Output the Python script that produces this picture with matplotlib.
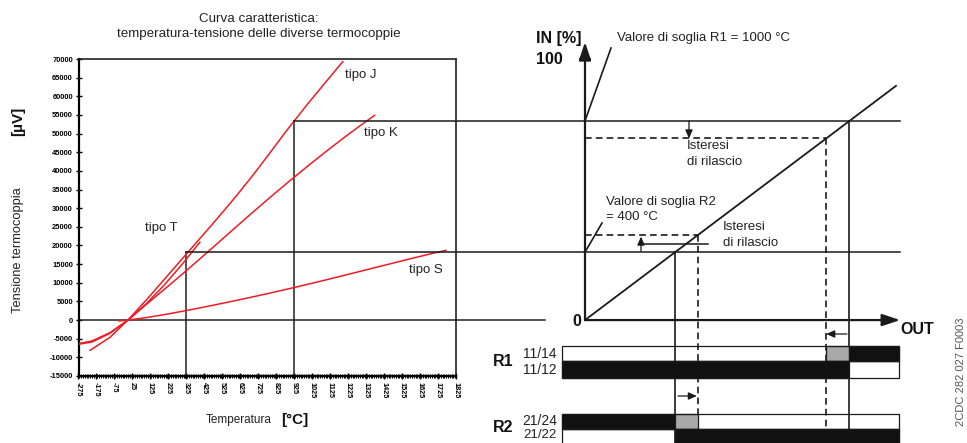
import matplotlib
matplotlib.use('Agg')
import matplotlib.pyplot as plt
from matplotlib.patches import Rectangle
from matplotlib.ticker import MultipleLocator

plt.rcParams['font.family'] = ['Liberation Sans', 'DejaVu Sans']

# ---------------- data ----------------
temp_J = [-210, -100, 0, 100, 200, 300, 400, 500, 600, 700, 760, 800, 900, 1000, 1100, 1195]
uv_J = [-8095, -4633, 0, 5269, 10779, 16327, 21848, 27393, 33102, 39132, 42919, 45494, 51877, 57953, 63792, 69300]

temp_K = [-270, -200, -100, 0, 100, 200, 300, 400, 500, 600, 700, 800, 900, 1000, 1100, 1200, 1300, 1372]
uv_K = [-6458, -5891, -3554, 0, 4096, 8138, 12209, 16397, 20644, 24905, 29129, 33275, 37326, 41276, 45119, 48838, 52410, 54886]

temp_T = [-270, -200, -100, 0, 100, 200, 300, 400]
uv_T = [-6258, -5603, -3379, 0, 4279, 9288, 14862, 20872]

temp_S = [-50, 0, 100, 200, 300, 400, 500, 600, 700, 800, 900, 1000, 1100, 1200, 1300, 1400, 1500, 1600, 1700, 1768]
uv_S = [-236, 0, 646, 1441, 2323, 3259, 4233, 5239, 6275, 7345, 8449, 9587, 10757, 11951, 13159, 14373, 15582, 16777, 17947, 18693]

x_ticks = list(range(-275, 1826, 100))
y_ticks = list(range(-15000, 70001, 5000))

# thresholds (µV); 70000 µV corresponds to IN = 100 %
UV_FULL = 70000
R1_TEMP, R1_ON_UV, R1_OFF_UV = 925, 53400, 48700
R2_TEMP, R2_ON_UV, R2_OFF_UV = 325, 18200, 22800
OUT_DIAG_END = 89.7
OUT_AXIS_END = 90.9
IN_AXIS_END = 106.5
BAR_START, BAR_END = -6.6, 90.5

pct = lambda uv: uv / UV_FULL * 100.0
R1_ON, R1_OFF = pct(R1_ON_UV), pct(R1_OFF_UV)
R2_ON, R2_OFF = pct(R2_ON_UV), pct(R2_OFF_UV)

# relay rows: list of (start, end, colour) in OUT units
R1_NO = [(BAR_START, R1_OFF, 'white'), (R1_OFF, R1_ON, '#a9a9a9'), (R1_ON, BAR_END, '#111111')]
R1_NC = [(BAR_START, R1_ON, '#111111'), (R1_ON, BAR_END, 'white')]
R2_NO = [(BAR_START, R2_ON, '#111111'), (R2_ON, R2_OFF, '#a9a9a9'), (R2_OFF, BAR_END, 'white')]
R2_NC = [(BAR_START, R2_ON, 'white'), (R2_ON, BAR_END, '#111111')]

# ---------------- layout ----------------
W, H = 967, 443
fig = plt.figure(figsize=(W / 100, H / 100), dpi=100)

def T(x, y, s, **kw):
    kw.setdefault('ha', 'left')
    kw.setdefault('va', 'center')
    kw.setdefault('fontsize', 9.5)
    kw.setdefault('color', '#222222')
    fig.text(x / W, 1 - y / H, s, **kw)

AX_L, AX_R, AX_T, AX_B = 78.5, 456.0, 59.0, 376.0
ax1 = fig.add_axes([AX_L / W, 1 - AX_B / H, (AX_R - AX_L) / W, (AX_B - AX_T) / H])
XMIN, XMAX, YMIN, YMAX = -275, 1825, -15000, 70000
ax1.set_xlim(XMIN, XMAX)
ax1.set_ylim(YMIN, YMAX)

red = '#ee1c24'
for t, v in [(temp_J, uv_J), (temp_K, uv_K), (temp_T, uv_T), (temp_S, uv_S)]:
    ax1.plot(t, v, color=red, lw=1.1, zorder=3)

ax1.set_xticks(x_ticks)
ax1.set_yticks(y_ticks)
ax1.xaxis.set_minor_locator(MultipleLocator(10))
ax1.set_xticklabels([str(v) for v in x_ticks], rotation=270, fontsize=5.2, fontweight='bold')
ax1.set_yticklabels([str(v) for v in y_ticks], fontsize=5.4, fontweight='bold')
ax1.tick_params(axis='y', direction='inout', length=5, width=1, pad=1.5)
ax1.tick_params(axis='x', which='major', direction='inout', length=4, width=1, pad=2)
ax1.tick_params(axis='x', which='minor', direction='inout', length=3, width=0.8)
for s in ['left', 'bottom']:
    ax1.spines[s].set_linewidth(1.6)
for s in ['top', 'right']:
    ax1.spines[s].set_linewidth(1.2)
    ax1.spines[s].set_color('#222222')

px_per_deg = (AX_R - AX_L) / (XMAX - XMIN)
deg_at_px = lambda px: XMIN + (px - AX_L) / px_per_deg
# zero line (extends a little to the right of the chart)
ax1.plot([XMIN, deg_at_px(545)], [0, 0], color='#222222', lw=1.1, clip_on=False, zorder=2)
# threshold verticals
ax1.plot([R1_TEMP, R1_TEMP], [YMIN, R1_ON_UV], color='#222222', lw=1.1)
ax1.plot([R2_TEMP, R2_TEMP], [YMIN, R2_ON_UV], color='#222222', lw=1.1)

# ---------------- right diagram ----------------
ppy = (AX_B - AX_T) / (YMAX - YMIN) * UV_FULL / 100.0   # px per IN %
Y0 = AX_T + YMAX / (YMAX - YMIN) * (AX_B - AX_T)         # px of zero
X0 = 585.0
ppx = ppy / 0.753                                        # px per OUT %
ax2 = fig.add_axes([0, 0, 1, 1])
ax2.set_xlim(-X0 / ppx, (W - X0) / ppx)
ax2.set_ylim((Y0 - H) / ppy, Y0 / ppy)
ax2.axis('off')
ax2.patch.set_alpha(0)

k = '#1a1a1a'
out_at_px = lambda px: (px - X0) / ppx
in_at_px = lambda py: (Y0 - py) / ppy

# horizontal threshold lines coming from the left chart
for temp, lvl in [(R1_TEMP, R1_ON), (R2_TEMP, R2_ON)]:
    x_start = out_at_px(AX_L + (temp - XMIN) * px_per_deg)
    ax2.plot([x_start, OUT_AXIS_END], [lvl, lvl], color=k, lw=1.1)

# axes with arrows
arrow_kw = dict(arrowstyle='-|>,head_length=0.9,head_width=0.3', color=k, lw=1.6,
                shrinkA=0, shrinkB=0, mutation_scale=12)
ax2.annotate('', xy=(0, IN_AXIS_END), xytext=(0, 0), arrowprops=arrow_kw)
ax2.annotate('', xy=(OUT_AXIS_END, 0), xytext=(0, 0), arrowprops=arrow_kw)
ax2.plot([-1.4, 1.4], [100, 100], color=k, lw=1.4)

# diagonal
ax2.plot([0, OUT_DIAG_END], [0, OUT_DIAG_END], color=k, lw=1.3)

dash = (0, (4, 2.5))
bottom = in_at_px(H + 2)
# R1
ax2.plot([0, R1_OFF], [R1_OFF, R1_OFF], color=k, lw=1.2, ls=dash)
ax2.plot([R1_OFF, R1_OFF], [R1_OFF, bottom], color=k, lw=1.2, ls=dash)
ax2.plot([R1_ON, R1_ON], [R1_ON, bottom], color=k, lw=1.2)
# R2
ax2.plot([0, R2_OFF], [R2_OFF, R2_OFF], color=k, lw=1.2, ls=dash)
ax2.plot([R2_OFF, R2_OFF], [R2_OFF, bottom], color=k, lw=1.2, ls=dash)
ax2.plot([R2_ON, R2_ON], [R2_ON, bottom], color=k, lw=1.2)

# leader lines
ax2.plot([0, out_at_px(611)], [R1_ON, in_at_px(48)], color=k, lw=1.2)
ax2.plot([0, out_at_px(602)], [R2_ON, in_at_px(223)], color=k, lw=1.2)

small_arrow = dict(arrowstyle='-|>,head_length=0.5,head_width=0.22', color=k, lw=0.9,
                   shrinkA=0, shrinkB=0, mutation_scale=10)
# hysteresis arrows
ax2.annotate('', xy=(out_at_px(689), R1_OFF), xytext=(out_at_px(689), R1_ON), arrowprops=small_arrow)
ax2.annotate('', xy=(out_at_px(641), R2_OFF - 0.6), xytext=(out_at_px(641), in_at_px(251)), arrowprops=small_arrow)
ax2.plot([out_at_px(645), out_at_px(708)], [in_at_px(244)] * 2, color=k, lw=1.1)
# relay arrows
ax2.annotate('', xy=(R1_OFF, in_at_px(334)), xytext=(out_at_px(847), in_at_px(334)), arrowprops=small_arrow)
ax2.annotate('', xy=(R2_OFF - 0.3, in_at_px(396)), xytext=(out_at_px(678), in_at_px(396)), arrowprops=small_arrow)

# relay bars
rows = [(R1_NO, 346, 361), (R1_NC, 361, 378), (R2_NO, 414, 429), (R2_NC, 429, 445)]
for segs, ptop, pbot in rows:
    y_lo, y_hi = in_at_px(pbot), in_at_px(ptop)
    for a, b, c in segs:
        if c != 'white':
            ax2.add_patch(Rectangle((a, y_lo), b - a, y_hi - y_lo, facecolor=c,
                                    edgecolor=k, lw=0.9, zorder=4))
    ax2.add_patch(Rectangle((BAR_START, y_lo), BAR_END - BAR_START, y_hi - y_lo,
                            facecolor='none', edgecolor=k, lw=0.9, zorder=5))

# ---------------- texts ----------------
T(259, 19, 'Curva caratteristica:', ha='center', fontsize=9.6)
T(259, 34, 'temperatura-tensione delle diverse termocoppie', ha='center', fontsize=9.6)
T(18, 250, 'Tensione termocoppia', ha='center', rotation=90, fontsize=9.3)
T(18, 121, '[µV]', ha='center', rotation=90, fontsize=11, fontweight='bold', color='#111111')
T(272, 420, 'Temperatura', ha='right', fontsize=8.5)
T(281, 420, '[°C]', fontsize=11, fontweight='bold', color='#111111')

T(345, 75, 'tipo J')
T(364, 133, 'tipo K')
T(145, 228, 'tipo T')
T(409, 270, 'tipo S')

T(559, 38, 'IN [%]', ha='center', fontsize=11.5, fontweight='bold', color='#111111')
T(536, 59, '100', fontsize=11.5, fontweight='bold', color='#111111')
T(577, 322, '0', ha='center', fontsize=11.5, fontweight='bold', color='#111111')
T(900, 329, 'OUT', fontsize=11.5, fontweight='bold', color='#111111')

T(617, 38, 'Valore di soglia R1 = 1000 °C')
T(687, 146, 'Isteresi')
T(687, 162, 'di rilascio')
T(606, 202, 'Valore di soglia R2')
T(606, 217, '= 400 °C')
T(723, 227, 'Isteresi')
T(723, 243, 'di rilascio')

T(493, 362, 'R1', fontsize=11.5, fontweight='bold', color='#111111')
T(557, 354, '11/14', ha='right', fontsize=10)
T(557, 370, '11/12', ha='right', fontsize=10)
T(493, 428, 'R2', fontsize=11.5, fontweight='bold', color='#111111')
T(557, 421, '21/24', ha='right', fontsize=10)
T(557, 435, '21/22', ha='right', fontsize=9.5)

T(961, 372, '2CDC 282 027 F0003', ha='center', rotation=90, fontsize=8, color='#555555')

fig.savefig('out.png', dpi=100)
